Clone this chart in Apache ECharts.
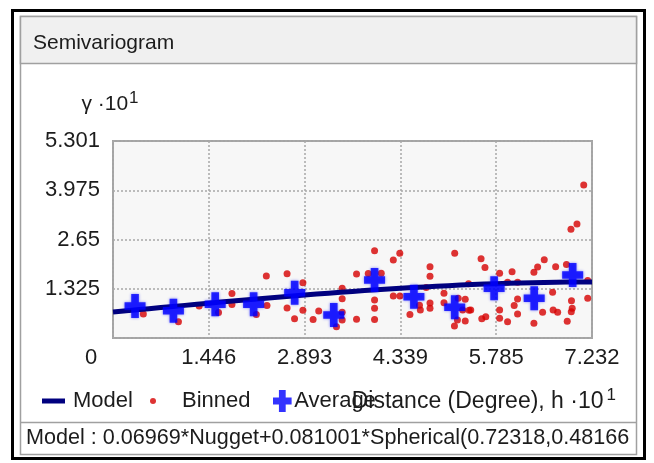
<!DOCTYPE html>
<html>
<head>
<meta charset="utf-8">
<script src="https://cdn.jsdelivr.net/npm/echarts@6/dist/echarts.min.js"></script>
<style>html,body{margin:0;padding:0;background:#fff}#c{width:654px;height:463px}</style>
</head>
<body>
<div id="c"></div>
<script>
// ---- data (units: distance h·10^1, gamma·10^1) ----
const xTickLabels = ['0', '1.446', '2.893', '4.339', '5.785', '7.232'];
const yTickLabels = ['0', '1.325', '2.65', '3.975', '5.301'];
const binnedX = [0.458,0.988,1.301,1.593,1.796,1.796,2.164,2.315,2.325,2.628,2.867,2.628,2.867,2.741,3.021,3.106,3.460,3.460,3.460,3.460,3.374,3.677,3.677,3.854,3.949,4.050,3.949,3.949,3.949,4.232,4.330,4.232,4.332,4.786,4.786,4.728,4.786,4.786,4.627,4.640,4.483,5.159,4.997,4.997,5.212,5.318,5.368,5.280,5.376,5.200,5.318,5.155,5.557,5.616,5.837,6.025,5.957,6.108,6.108,6.057,6.108,5.837,5.837,5.957,5.568,5.401,6.355,6.411,6.511,6.683,6.846,6.637,6.486,6.645,6.713,6.922,6.933,6.919,6.858,6.355,7.167,7.167,6.914,7.005,7.107,5.628];
const binnedY = [0.646,0.438,0.861,0.686,1.197,0.901,0.632,1.668,0.874,1.730,1.485,0.807,0.745,0.517,0.498,0.726,1.337,1.056,0.691,0.484,0.304,1.722,0.503,1.735,2.346,1.741,1.022,0.799,0.498,2.098,2.279,1.130,1.130,1.918,1.660,1.359,0.942,0.799,0.882,0.753,0.632,2.279,1.203,0.950,1.068,1.044,1.461,0.753,0.745,0.484,0.457,0.323,2.131,1.897,1.741,1.784,1.501,1.501,1.049,0.874,0.646,0.753,0.530,0.438,0.517,0.753,1.770,1.910,2.107,1.918,1.977,1.232,0.694,0.753,0.694,1.001,0.799,0.708,0.452,0.395,1.547,1.068,2.924,3.067,4.116,0.573];
const averageX = [0.333,0.912,1.543,2.123,2.743,3.333,3.949,4.543,5.159,5.754,6.359,6.940];
const averageY = [0.861,0.734,0.907,0.907,1.219,0.619,1.560,1.111,0.826,1.337,1.068,1.695];
const modelX = [0,0.3616,0.7232,1.0848,1.4464,1.8080,2.1695,2.5311,2.8927,3.2543,3.6159,3.9775,4.3391,4.7007,5.0623,5.4239,5.7854,6.1470,6.5086,6.8702,7.2318];
const modelY = [0.6969,0.7576,0.8180,0.8778,0.9367,0.9943,1.0505,1.1048,1.1570,1.2068,1.2538,1.2978,1.3384,1.3754,1.4085,1.4373,1.4616,1.4809,1.4952,1.5039,1.5069];
const modelText = 'Model : 0.06969*Nugget+0.081001*Spherical(0.72318,0.48166';

const X_MAX = 7.2318, X_INT = X_MAX / 5;
const Y_MAX = 5.3005, Y_INT = Y_MAX / 4;
const FONT = "'Liberation Sans',Arial,sans-serif";
const FS = 22;
const TXT = '#1c1c1c';
const CROSS = 'path://M7,0H15V9H22V17H15V26H7V17H0V9H7Z';

const zip = (a, b) => a.map((v, i) => [v, b[i]]);

const chart = echarts.init(document.getElementById('c'), null, {renderer: 'canvas'});
chart.setOption({
  backgroundColor: '#fff',
  animation: false,
  graphic: [
    {type: 'rect', z: -10, shape: {x: 12.5, y: 10.5, width: 632, height: 448}, style: {fill: '#fff', stroke: '#000', lineWidth: 3}},
    {type: 'rect', z: -9, shape: {x: 20.5, y: 16.5, width: 616, height: 438}, style: {fill: '#fff', stroke: '#a0a0a0', lineWidth: 1.5}},
    {type: 'rect', z: -8, shape: {x: 20.5, y: 16.5, width: 616, height: 47}, style: {fill: '#f0f0f0', stroke: '#a0a0a0', lineWidth: 1.5}},
    {type: 'text', left: 33, top: 33, style: {text: 'Semivariogram', font: '21px ' + FONT, fill: TXT}},
    {type: 'line', z: -8, shape: {x1: 20, y1: 422.5, x2: 637, y2: 422.5}, style: {stroke: '#a0a0a0', lineWidth: 1.5}},
    {type: 'text', left: 26, top: 427, style: {text: modelText, font: '21.6px ' + FONT, fill: TXT}}
  ],
  grid: {left: 113, top: 141, right: 62, bottom: 125, show: true, backgroundColor: '#f7f7f7', borderColor: '#a4a4a4', borderWidth: 2},
  legend: [
    {data: [{name: 'Model', icon: 'rect'}], left: 42, top: 388, padding: 0, itemWidth: 23, itemHeight: 5, textStyle: {fontFamily: FONT, fontSize: FS, color: TXT, lineHeight: 26, padding: [0, 0, 0, 3]}},
    {data: [{name: 'Binned', icon: 'circle'}], left: 150, top: 388, padding: 0, itemWidth: 6, itemHeight: 6, textStyle: {fontFamily: FONT, fontSize: FS, color: TXT, lineHeight: 26, padding: [0, 0, 0, 21]}},
    {data: [{name: 'Average', icon: CROSS}], left: 273, top: 388, padding: 0, itemWidth: 20, itemHeight: 22, textStyle: {fontFamily: FONT, fontSize: FS, color: TXT, lineHeight: 26, padding: [0, 0, 0, -3]}}
  ],
  xAxis: {
    type: 'value', min: 0, max: X_MAX, interval: X_INT,
    name: '{n|Distance (Degree), h ·10}{s|1}', nameLocation: 'end', nameGap: 24,
    nameTextStyle: {align: 'right', verticalAlign: 'top', padding: [49, 0, 0, 0],
      rich: {n: {fontFamily: FONT, fontSize: FS + 1, color: TXT}, s: {fontFamily: FONT, fontSize: 17, color: TXT, padding: [0, 0, 13, 3]}}},
    axisLine: {show: false}, axisTick: {show: false},
    axisLabel: {margin: 9, fontFamily: FONT, fontSize: FS, color: TXT,
      formatter: v => { const i = Math.round(v / X_INT); return i === 0 ? '{o|0}' : xTickLabels[i]; },
      rich: {o: {fontFamily: FONT, fontSize: FS, color: TXT, padding: [0, 44, 0, 0]}}},
    splitLine: {show: true, lineStyle: {color: '#a8a8a8', width: 1.5, type: [2, 2]}}
  },
  yAxis: {
    type: 'value', min: 0, max: Y_MAX, interval: Y_INT,
    name: '{g|γ ·10}{s|1}', nameLocation: 'end', nameGap: 22,
    nameTextStyle: {align: 'center', padding: [0, 6, 0, 0], rich: {g: {fontFamily: FONT, fontSize: 21, color: TXT}, s: {fontFamily: FONT, fontSize: 17, color: TXT, padding: [0, 0, 12, 1]}}},
    axisLine: {show: false}, axisTick: {show: false},
    axisLabel: {margin: 13, fontFamily: FONT, fontSize: FS, color: TXT,
      formatter: v => { const i = Math.round(v / Y_INT); return i === 0 ? '' : yTickLabels[i]; }},
    splitLine: {show: true, lineStyle: {color: '#a8a8a8', width: 1.5, type: [2, 2]}}
  },
  series: [
    {name: 'Binned', type: 'scatter', z: 2, symbol: 'circle', symbolSize: 7, itemStyle: {color: '#d60000'}, data: zip(binnedX, binnedY)},
    {name: 'Model', type: 'line', z: 3, showSymbol: false, smooth: true, lineStyle: {color: '#00007f', width: 5}, itemStyle: {color: '#00007f'}, data: zip(modelX, modelY)},
    {name: 'Average', type: 'scatter', z: 4, symbol: CROSS, symbolSize: [21, 24], itemStyle: {color: '#0000ff', shadowBlur: 3, shadowColor: 'rgba(0,0,255,0.6)'}, data: zip(averageX, averageY)}
  ]
});
</script>
</body>
</html>
